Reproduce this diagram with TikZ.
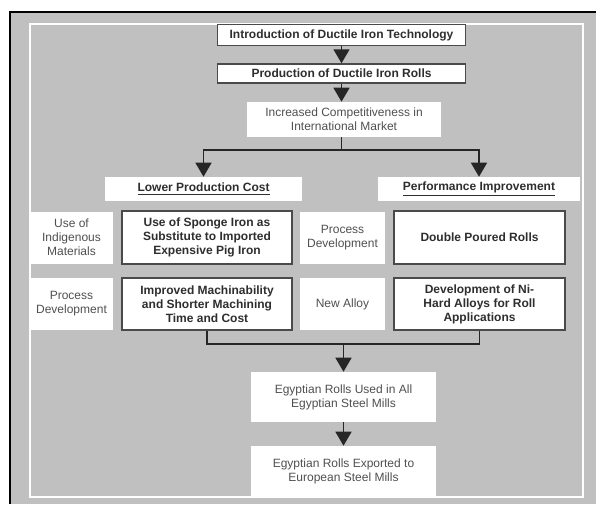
\documentclass[tikz,border=0pt]{standalone}
\usepackage{fontspec}
\setmainfont{Liberation Sans}
\usetikzlibrary{arrows.meta}
\definecolor{panelgray}{HTML}{C0C0C0}
\definecolor{boxline}{HTML}{4A4A4A}
\definecolor{darktext}{HTML}{2E2E2E}
\definecolor{softtext}{HTML}{505050}
\tikzset{
  basebox/.style={fill=white, align=center, inner sep=1pt, font=\fontsize{9}{10.5}\selectfont},
  boldbox/.style={basebox, draw=boxline, line width=1.1pt, text=darktext, font=\bfseries\fontsize{9}{10.5}\selectfont},
  plainbox/.style={basebox, text=softtext},
  headbox/.style={basebox, text=darktext, font=\bfseries\fontsize{9}{10.5}\selectfont},
  flow/.style={line width=1.1pt, draw=black!85},
  tip/.style={flow, -{Triangle[length=10.5pt,width=12pt]}}
}
\begin{document}
\begin{tikzpicture}[x=0.75pt,y=-0.75pt]
    \useasboundingbox (0,0) rectangle (596,504);
    % frame
    \fill[panelgray] (10,12) rectangle (596,504);
    \draw[line width=2.2pt] (10,504) -- (10,12) -- (596,12);
    \draw[white, line width=1.8pt] (30,24) rectangle (583,497);
    % top chain
    \node[boldbox, minimum width=248*0.75pt, minimum height=21*0.75pt] (intro) at (341.5,35) {Introduction of Ductile Iron Technology};
    \node[boldbox, minimum width=248*0.75pt, minimum height=19*0.75pt] (rolls) at (341.5,73.5) {Production of Ductile Iron Rolls};
    \node[plainbox, minimum width=194*0.75pt, minimum height=35*0.75pt] (compet) at (344,119.5) {Increased Competitiveness in\\International Market};
    \node[headbox, minimum width=197*0.75pt, minimum height=24*0.75pt] (lower) at (203.5,189) {\underline{Lower Production Cost}};
    \node[headbox, minimum width=202*0.75pt, minimum height=24*0.75pt] (perf) at (479,189) {\underline{Performance Improvement}};
    % left column
    \node[plainbox, minimum width=83*0.75pt, minimum height=52*0.75pt] (indig) at (71.5,237.5) {Use of\\Indigenous\\Materials};
    \node[boldbox, minimum width=170*0.75pt, minimum height=53*0.75pt] (sponge) at (207,237.5) {Use of Sponge Iron as\\Substitute to Imported\\Expensive Pig Iron};
    \node[plainbox, minimum width=83*0.75pt, minimum height=52*0.75pt] (procL) at (71.5,304) {Process\\Development};
    \node[boldbox, minimum width=170*0.75pt, minimum height=52*0.75pt] (machin) at (207,304) {Improved Machinability\\and Shorter Machining\\Time and Cost};
    % right column
    \node[plainbox, minimum width=85*0.75pt, minimum height=52*0.75pt] (procR) at (342.5,237.5) {Process\\Development};
    \node[boldbox, minimum width=171*0.75pt, minimum height=53*0.75pt] (double) at (479.5,237.5) {Double Poured Rolls};
    \node[plainbox, minimum width=85*0.75pt, minimum height=52*0.75pt] (alloy) at (342.5,304) {New Alloy};
    \node[boldbox, minimum width=171*0.75pt, minimum height=52*0.75pt] (nihard) at (479.5,304) {Development of Ni-\\Hard Alloys for Roll\\Applications};
    % bottom chain
    \node[plainbox, minimum width=185*0.75pt, minimum height=50*0.75pt] (used) at (343.5,397) {Egyptian Rolls Used in All\\Egyptian Steel Mills};
    \node[plainbox, minimum width=185*0.75pt, minimum height=50*0.75pt] (export) at (343.5,471) {Egyptian Rolls Exported to\\European Steel Mills};
    % connectors
    \coordinate (split) at (341.5,150);
    \coordinate (merge) at (343.5,344);
    \draw[tip] (intro) -- (rolls);
    \draw[tip] (rolls) -- (rolls |- compet.north);
    \draw[flow] (compet.south -| split) -- (split);
    \draw[tip] (split) -| (lower.north);
    \draw[tip] (split) -| (perf.north);
    \draw[flow] (machin.south) |- (merge) -| (nihard.south);
    \draw[tip] (merge) -- (used);
    \draw[tip] (used) -- (export);
\end{tikzpicture}
\end{document}
